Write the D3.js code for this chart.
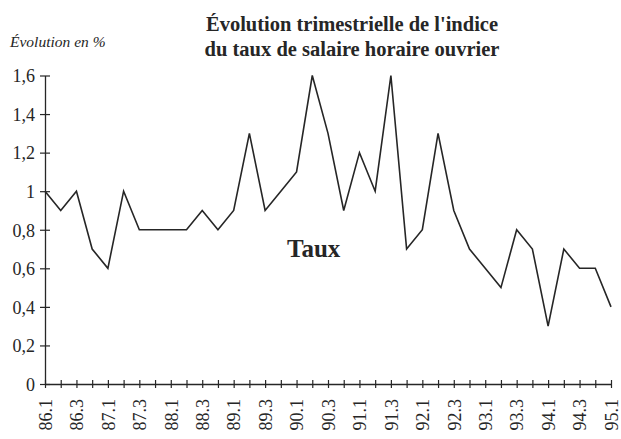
<!DOCTYPE html>
<html>
<head>
<meta charset="utf-8">
<script src="https://cdn.jsdelivr.net/npm/d3@7"></script>
<style>
  html, body { margin: 0; padding: 0; background: #ffffff; }
  svg text { font-family: "Liberation Serif", "Times New Roman", serif; fill: #262626; }
</style>
</head>
<body>
<svg id="chart" width="621" height="439"></svg>
<script>
// ---- data ----
const quarters = ["86.1","86.2","86.3","86.4","87.1","87.2","87.3","87.4",
  "88.1","88.2","88.3","88.4","89.1","89.2","89.3","89.4",
  "90.1","90.2","90.3","90.4","91.1","91.2","91.3","91.4",
  "92.1","92.2","92.3","92.4","93.1","93.2","93.3","93.4",
  "94.1","94.2","94.3","94.4","95.1"];
const taux = [1.0,0.9,1.0,0.7,0.6,1.0,0.8,0.8,
  0.8,0.8,0.9,0.8,0.9,1.3,0.9,1.0,
  1.1,1.6,1.3,0.9,1.2,1.0,1.6,0.7,
  0.8,1.3,0.9,0.7,0.6,0.5,0.8,0.7,
  0.3,0.7,0.6,0.6,0.4];
const yTicks = [0,0.2,0.4,0.6,0.8,1,1.2,1.4,1.6];
const xLabels = quarters.filter((q,i) => i % 2 === 0);
const titleLines = ["Évolution trimestrielle de l'indice", "du taux de salaire horaire ouvrier"];

// ---- layout ----
const svg = d3.select("#chart");
const x = d3.scalePoint().domain(quarters).range([45, 611]);
const y = d3.scaleLinear().domain([0, 1.6]).range([384, 75.5]);
const ink = "#262626";
const serif = "'Liberation Serif', 'Times New Roman', serif";

// title
svg.append("g").selectAll("text").data(titleLines).join("text")
  .attr("x", 352).attr("y", (d,i) => 31 + i*25)
  .attr("text-anchor", "middle")
  .style("font-weight", "bold").style("font-size", "20.5px")
  .text(d => d);

// y unit label
svg.append("text").attr("x", 10).attr("y", 47)
  .style("font-style", "italic").style("font-size", "15.5px")
  .text("Évolution en %");

// y axis
const yAxis = d3.axisLeft(y).tickValues(yTicks).tickSize(0).tickPadding(0)
  .tickFormat(d => d3.format(".1~f")(d).replace(".", ","));
const gy = svg.append("g").attr("transform", `translate(${x(quarters[0])},0)`)
  .call(yAxis).attr("font-family", serif).attr("font-size", 18);
gy.select(".domain").attr("stroke", ink).attr("stroke-width", 1.3);
gy.selectAll(".tick line").remove();
gy.selectAll(".tick").append("line").attr("x1", -5).attr("x2", 5).attr("stroke", ink).attr("stroke-width", 1.2);
gy.selectAll(".tick text").attr("x", -10).attr("dy", "0.35em").attr("fill", ink);

// x axis
const xAxis = d3.axisBottom(x).tickSize(0).tickPadding(0)
  .tickFormat(d => xLabels.includes(d) ? d : "");
const gx = svg.append("g").attr("transform", `translate(0,${y(0)})`)
  .call(xAxis).attr("font-family", serif).attr("font-size", 18);
gx.select(".domain").attr("stroke", ink).attr("stroke-width", 1.3);
gx.selectAll(".tick line").remove();
gx.selectAll(".tick").append("line").attr("y1", -4).attr("y2", 4).attr("stroke", ink).attr("stroke-width", 1.2);
gx.selectAll(".tick text")
  .attr("transform", "rotate(-90)")
  .attr("x", -15).attr("y", 0).attr("dy", "0.35em")
  .attr("text-anchor", "end").attr("fill", ink);

// line
const line = d3.line().x((d,i) => x(quarters[i])).y(d => y(d));
svg.append("path").datum(taux)
  .attr("d", line).attr("fill", "none")
  .attr("stroke", ink).attr("stroke-width", 1.6).attr("stroke-linejoin", "miter");

// series label
svg.append("text").attr("x", 287).attr("y", 257)
  .style("font-weight", "bold").style("font-size", "25px")
  .text("Taux");
</script>
</body>
</html>
